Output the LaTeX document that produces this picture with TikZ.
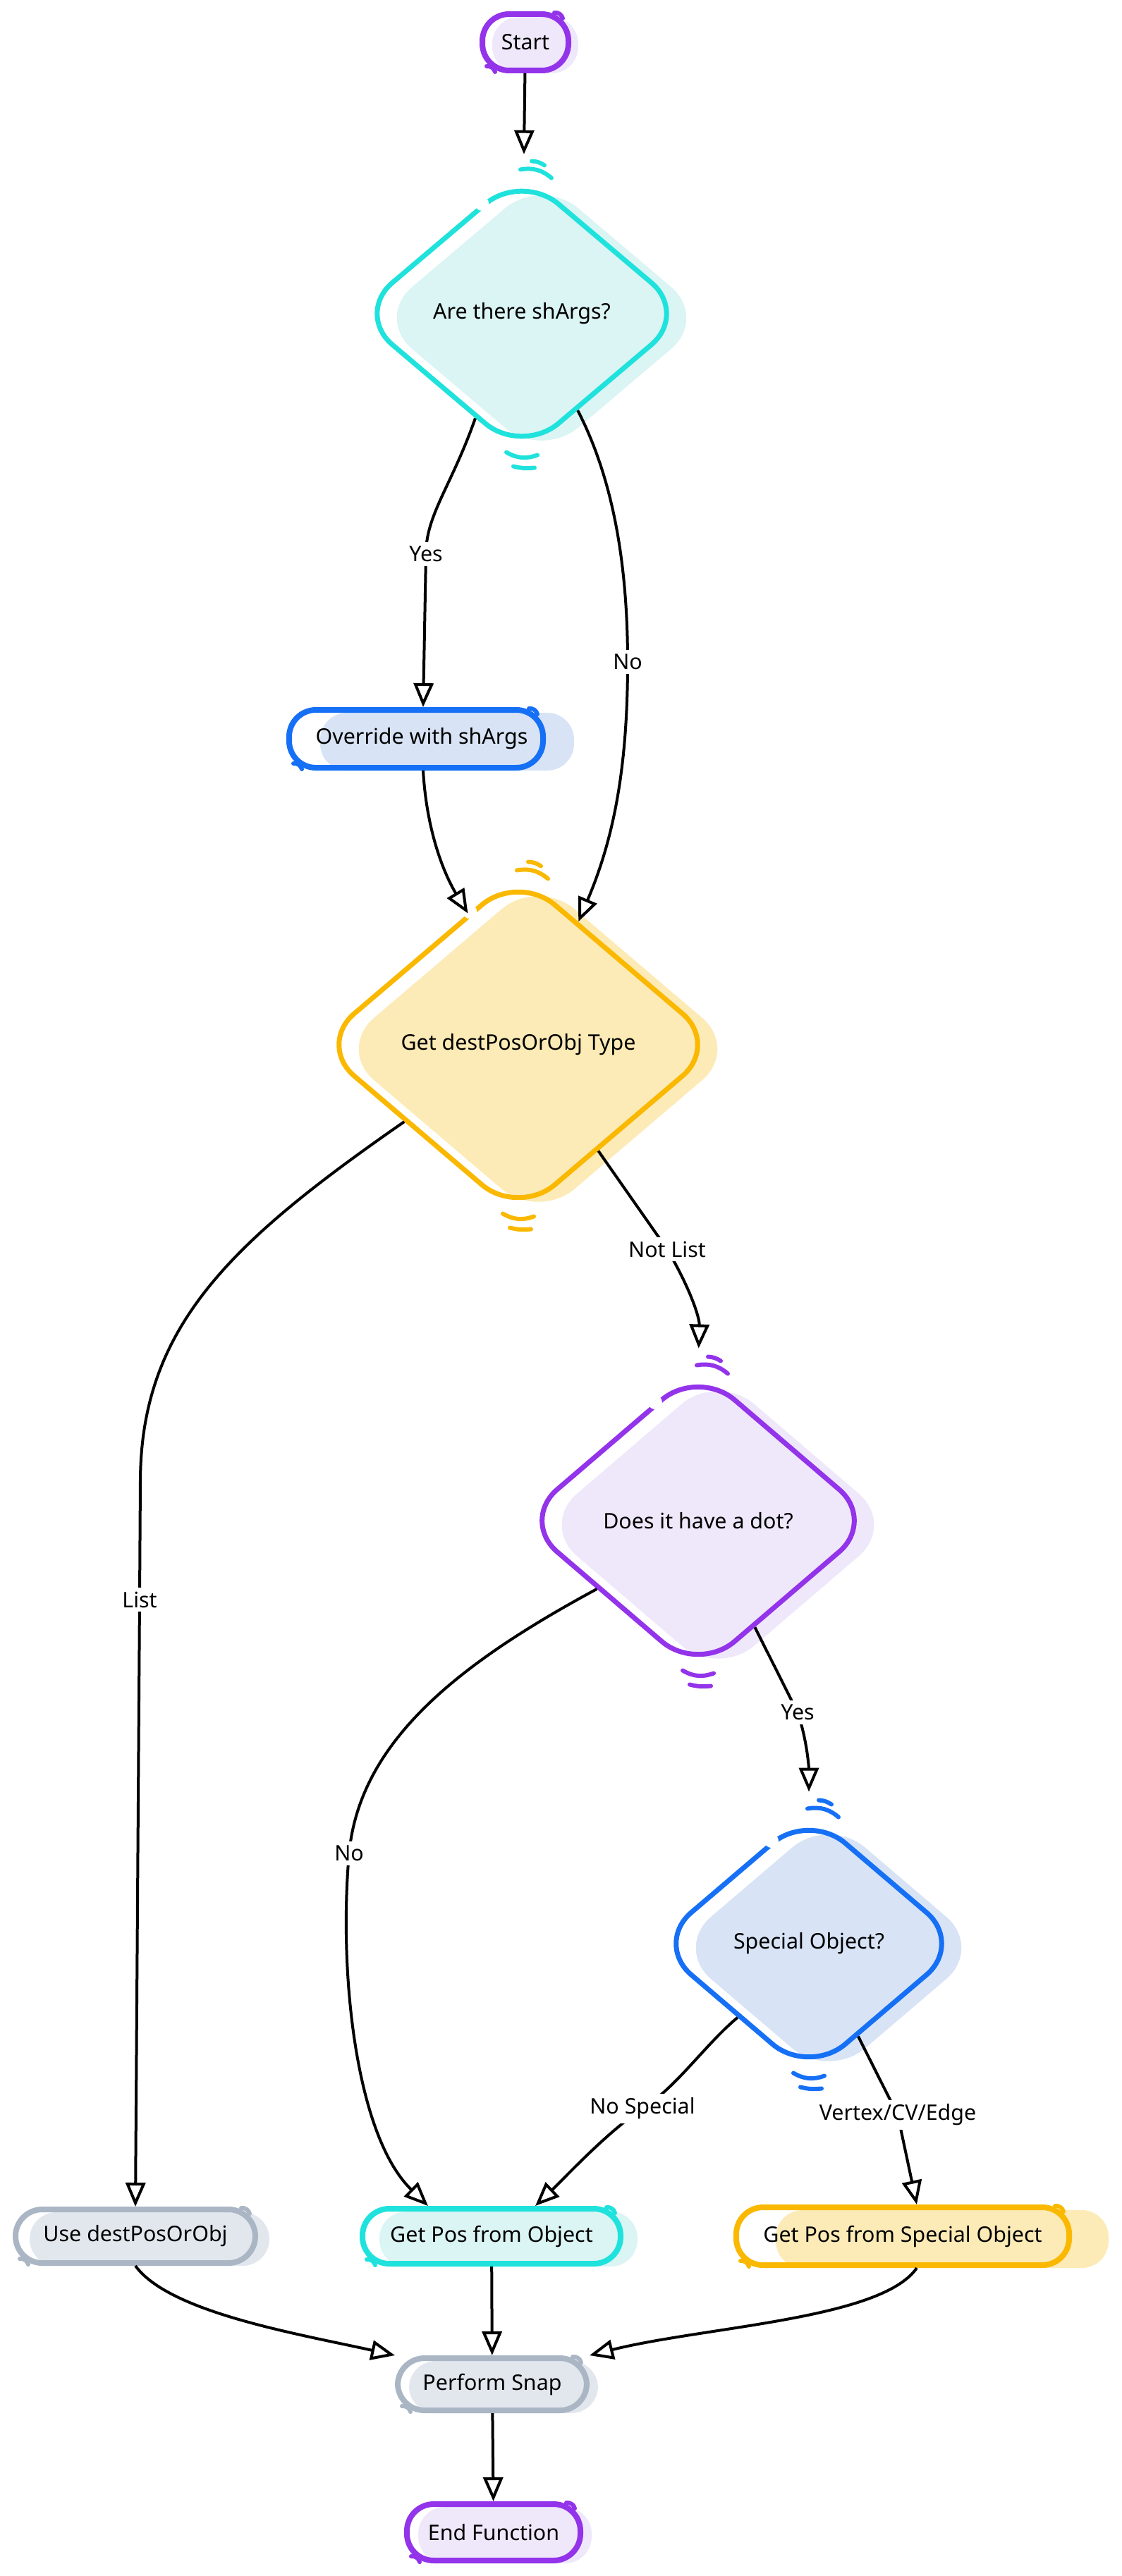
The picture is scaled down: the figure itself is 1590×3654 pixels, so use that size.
\documentclass[tikz,border=0pt]{standalone}
\usepackage{fontspec}
\setmainfont{Noto Sans}
\usepackage{tikz}
\usetikzlibrary{arrows.meta}
\usetikzlibrary{shapes.geometric}
\definecolor{violetline}{RGB}{147, 51, 234}
\definecolor{violetfill}{RGB}{238, 232, 250}
\definecolor{cyanline}{RGB}{32, 226, 220}
\definecolor{cyanfill}{RGB}{219, 244, 244}
\definecolor{blueline}{RGB}{22, 112, 245}
\definecolor{bluefill}{RGB}{216, 228, 246}
\definecolor{amberline}{RGB}{250, 184, 0}
\definecolor{amberfill}{RGB}{252, 235, 182}
\definecolor{greyline}{RGB}{170, 182, 196}
\definecolor{greyfill}{RGB}{226, 231, 238}

\tikzset{
  box/.style 2 args={draw=#1line, line width=4pt, rounded corners=19pt, inner sep=0pt,
    preaction={fill=#1fill, draw=none, transform canvas={xshift=#2, yshift=-2pt}}},
  dia/.style={diamond, draw=#1line, line width=3.5pt, rounded corners=34pt, inner sep=0pt,
    preaction={fill=#1fill, draw=none, transform canvas={xshift=14pt, yshift=-3pt}}},
  flow/.style={draw=black, line width=2pt, -{Triangle[open, length=17pt, width=14pt]}},
  lbl/.style={fill=white, inner sep=3pt},
  intop/.style={shorten >=12pt},
  sketchmark/.style={line width=3pt, line cap=round}
}

\begin{document}
\begin{tikzpicture}[x=0.5pt, y=-0.5pt, font=\fontsize{15.2}{18}\selectfont]
  \useasboundingbox (0,0) rectangle (1590,3654);

  % nodes
  \node[box={violet}{7pt},  minimum width=61pt,  minimum height=40pt]  (start) at (745,60)    {Start};
  \node[dia=cyan,   minimum width=237pt, minimum height=201pt] (d1)    at (740,445)   {Are there shArgs?};
  \node[box={blue}{22pt},   minimum width=180pt, minimum height=41pt]  (ov)    at (590,1048)  {\hspace{8pt}Override with shArgs};
  \node[dia=amber,  minimum width=286pt, minimum height=244pt] (d2)    at (735,1482)  {Get destPosOrObj Type};
  \node[dia=violet, minimum width=253pt, minimum height=217pt] (d3)    at (990,2157)  {Does it have a dot?};
  \node[dia=blue,   minimum width=220pt, minimum height=188pt] (d4)    at (1147,2757) {Special Object?};
  \node[box={grey}{10pt},   minimum width=170pt, minimum height=38pt]  (use)   at (192,3172)  {Use destPosOrObj};
  \node[box={cyan}{12pt},   minimum width=183pt, minimum height=39pt]  (go)    at (697,3172)  {Get Pos from Object};
  \node[box={amber}{28pt},  minimum width=236pt, minimum height=41pt]  (gsp)   at (1280,3172) {Get Pos from Special Object};
  \node[box={grey}{8pt},    minimum width=134pt, minimum height=37pt]  (snap)  at (698,3382)  {Perform Snap};
  \node[box={violet}{8pt},  minimum width=123pt, minimum height=40pt]  (endf)  at (700,3592)  {End Function};

  % sketch marks round the diamonds
  \foreach \d/\c in {d1/cyanline, d2/amberline, d3/violetline, d4/blueline} {
    \draw[\c, sketchmark] ([xshift=-1pt]\d.north) to[bend left=25] ([xshift=21pt, yshift=-6pt]\d.north);
    \draw[\c, sketchmark] ([xshift=7pt, yshift=6pt]\d.north) to[bend left=15] ([xshift=16pt, yshift=3pt]\d.north);
    \draw[\c, sketchmark] ([xshift=-11pt, yshift=4pt]\d.south) to[bend right=25] ([xshift=11pt, yshift=2pt]\d.south);
    \draw[\c, sketchmark] ([xshift=-6pt, yshift=-6pt]\d.south) to[bend right=10] ([xshift=9pt, yshift=-7pt]\d.south);
    \fill[white] (\d.110) circle (5pt);
  }
  % and the little hooks on the boxes
  \foreach \b/\c in {start/violetline, ov/blueline, use/greyline, go/cyanline, gsp/amberline, snap/greyline, endf/violetline} {
    \draw[\c, sketchmark] ([xshift=-12pt, yshift=-1pt]\b.north east) to[bend left=40] ([xshift=-6pt, yshift=-5pt]\b.north east);
    \draw[\c, sketchmark] ([xshift=5pt, yshift=5pt]\b.south west) to[bend left=40] ([xshift=11pt, yshift=1pt]\b.south west);
  }

  % connectors
  \draw[flow, intop] (start) -- (d1);
  \draw[flow] (d1.-114) .. controls (640,690) and (604,730) .. (604,786) node[lbl] {Yes} -- ([xshift=5pt]ov.north);
  \draw[flow] (d1.-60) .. controls (875,690) and (890,820) .. (890,939) node[lbl] {No}
              .. controls (890,1090) and (870,1190) .. (d2.64);
  \draw[flow] ([xshift=5pt]ov.south) .. controls (605,1180) and (630,1240) .. (d2.111);
  \draw[flow] (d2.-146) .. controls (330,1760) and (200,1880) .. (199,2100) -- (198,2269) node[lbl] {List} -- (use.north);
  \draw[flow, intop] (d2.-53) -- (946,1772) node[lbl] {Not List} .. controls (980,1830) and (992,1870) .. (d3.north);
  \draw[flow] (d3.-146) .. controls (650,2360) and (510,2470) .. (495,2629) node[lbl] {No}
              .. controls (480,2800) and (505,3030) .. ([xshift=-45pt]go.north);
  \draw[flow, intop] (d3.-62) -- (1131,2429) node[lbl] {Yes} .. controls (1145,2470) and (1147,2510) .. (d4.north);
  \draw[flow] (d4.-134) .. controls (1000,2900) and (960,2960) .. (911,2991) node[lbl] {No Special}
              .. controls (860,3025) and (800,3090) .. ([xshift=31pt]go.north);
  \draw[flow] (d4.-62) -- (1273,3000) node[lbl] {Vertex/CV/Edge} -- ([xshift=10pt]gsp.north);
  \draw[flow] (use.south) .. controls (240,3280) and (420,3310) .. (snap.north west);
  \draw[flow] (go) -- (snap);
  \draw[flow] ([xshift=10pt]gsp.south) .. controls (1250,3290) and (1000,3300) .. (snap.north east);
  \draw[flow] (snap) -- (endf);
\end{tikzpicture}
\end{document}
